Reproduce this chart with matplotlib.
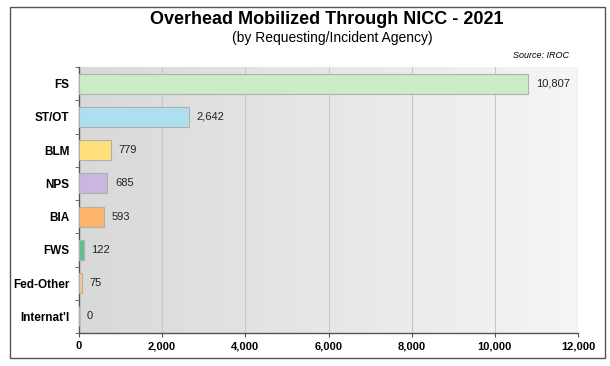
import numpy as np
import matplotlib
matplotlib.use("Agg")
import matplotlib.pyplot as plt
from matplotlib.patches import Rectangle

# data
agencies = ["FS", "ST/OT", "BLM", "NPS", "BIA", "FWS", "Fed-Other", "Internat'l"]
overhead = [10807, 2642, 779, 685, 593, 122, 75, 0]
bar_colors = ["#cdebc4", "#addfee", "#ffe07a", "#c9b7df", "#fdb56c", "#5ec08c", "#f8c690", "#cccccc"]
xticks = [0, 2000, 4000, 6000, 8000, 10000, 12000]

plt.rcParams['font.family'] = ['Liberation Sans', 'DejaVu Sans']

fig = plt.figure(figsize=(6.1, 3.66), dpi=100)
fig.patch.set_facecolor("white")
# outer frame
fig.add_artist(Rectangle((10/610, 1-358/366), 595/610, 351/366, transform=fig.transFigure,
                         fill=False, edgecolor="#555555", linewidth=1.0))

ax = fig.add_axes([79/610, 1-333/366, 499/610, 266/366])

# gradient background, darker on the left
grad = np.linspace(0, 1, 256).reshape(1, -1)
ax.imshow(grad, cmap=matplotlib.colors.LinearSegmentedColormap.from_list("g", ["#d9d9d9", "#f5f5f5"]),
          extent=[0, 12000, -0.5, len(agencies) - 0.5], aspect="auto", zorder=0)

ypos = np.arange(len(agencies))
ax.barh(ypos, overhead, height=0.6, color=bar_colors, edgecolor="#b0b0b0", linewidth=0.8, zorder=3)

for y, v in zip(ypos, overhead):
    ax.text(v + 180, y, f"{v:,}", va="center", ha="left", fontsize=8, color="#222222", zorder=4)

ax.set_xlim(0, 12000)
ax.set_ylim(len(agencies) - 0.5, -0.5)
ax.set_xticks(xticks)
ax.set_xticklabels([f"{t:,}" for t in xticks], fontsize=8, fontweight="bold")
ax.set_yticks(ypos)
ax.set_yticklabels(agencies, fontsize=8.5, fontweight="bold")
ax.tick_params(axis="y", length=0, pad=7)
ax.set_yticks(np.arange(-0.5, len(agencies)), minor=True)
ax.tick_params(axis="y", which="minor", length=3, color="#555555")
ax.tick_params(axis="x", length=3, color="#555555", pad=3)

ax.grid(axis="x", color="#c8c8c8", linewidth=0.8, zorder=1)
for s in ["top", "right"]:
    ax.spines[s].set_visible(False)
for s in ["left", "bottom"]:
    ax.spines[s].set_color("#555555")
    ax.spines[s].set_linewidth(1.0)

fig.text(327/610, 1-19/366, "Overhead Mobilized Through NICC - 2021", ha="center", va="center",
         fontsize=13, fontweight="bold")
fig.text(332/610, 1-38/366, "(by Requesting/Incident Agency)", ha="center", va="center", fontsize=10)
fig.text(569/610, 1-55/366, "Source: IROC", ha="right", va="center", fontsize=6.5, style="italic")

fig.savefig("out.png", dpi=100)
